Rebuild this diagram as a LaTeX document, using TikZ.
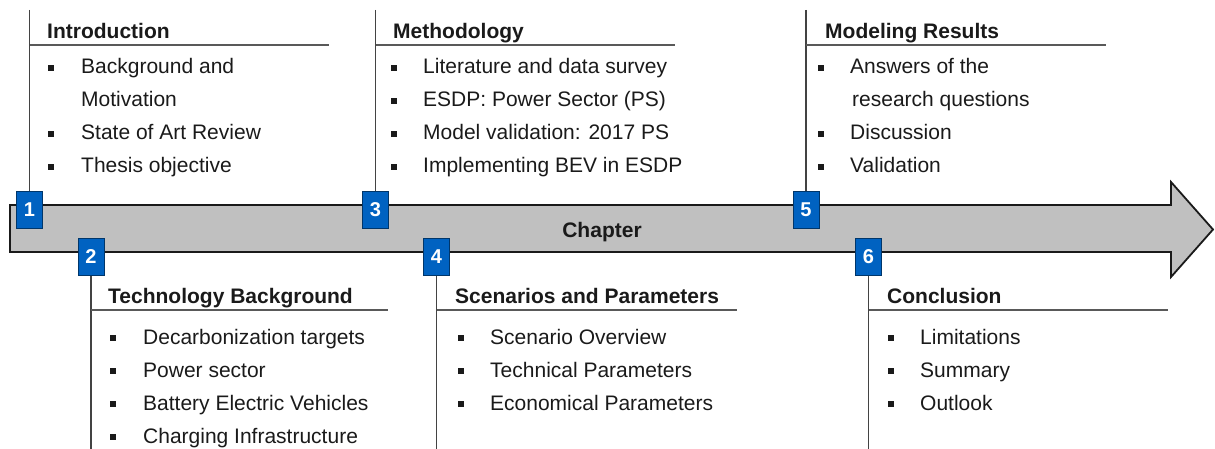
\documentclass[tikz,border=0pt]{standalone}
\usepackage{fontspec}
\setmainfont{Liberation Sans}
\definecolor{numblue}{HTML}{0062C1}
\definecolor{shaft}{HTML}{C0C0C0}
\definecolor{rule}{HTML}{595959}
\definecolor{ink}{HTML}{1A1A1A}
\tikzset{
  body/.style={font=\fontsize{21}{25}\selectfont, text=ink, inner sep=0pt, anchor=base west},
  head/.style={body, font=\fontsize{21}{25}\selectfont\bfseries},
  numbox/.style={draw=numblue!55!black, fill=numblue, minimum width=26pt, minimum height=37pt,
    inner sep=0pt, text=white, font=\fontsize{20}{24}\selectfont\bfseries, line width=0.8pt},
  stem/.style={draw=rule!75!black, line width=1.3pt},
  headrule/.style={draw=rule, line width=1.3pt},
  dot/.style={fill=ink, minimum size=5.5pt, inner sep=0pt},
  timeline/.style={draw=ink, fill=shaft, line width=1.8pt, line join=miter},
}
\begin{document}
\begin{tikzpicture}[x=1pt,y=-1pt]
\useasboundingbox (0,0) rectangle (1215,449);

% timeline arrow
\draw[timeline] (10,205) -- (1171,205) -- (1171,182) -- (1213,229.5)
  -- (1171,277) -- (1171,252) -- (10,252) -- cycle;
\node[head, anchor=base] (chap) at (602,237) {Chapter};

% stem end points and heading rules
\coordinate (t1) at (29.5,10);   \coordinate (t3) at (375.5,10);  \coordinate (t5) at (806,10);
\coordinate (t2) at (91,449);    \coordinate (t4) at (436.5,449); \coordinate (t6) at (868.5,449);
\coordinate (r1a) at (29.5,45);  \coordinate (r1b) at (329,45);
\coordinate (r3a) at (375.5,45); \coordinate (r3b) at (675,45);
\coordinate (r5a) at (806,45);   \coordinate (r5b) at (1106,45);
\coordinate (r2a) at (91,310);   \coordinate (r2b) at (388,310);
\coordinate (r4a) at (436.5,310);\coordinate (r4b) at (737,310);
\coordinate (r6a) at (868.5,310);\coordinate (r6b) at (1168,310);

\draw[stem] (t1) -- (29.5,191);
\draw[stem] (t3) -- (375.5,191);
\draw[stem] (t5) -- (806,191);
\draw[stem] (t2) -- (91,275);
\draw[stem] (t4) -- (436.5,275);
\draw[stem] (t6) -- (868.5,275);
\foreach \k in {1,...,6} { \draw[headrule] (r\k a) -- (r\k b); }

% chapter numbers
\node[numbox] (n1) at (29.5,209.5) {1};
\node[numbox] (n3) at (375.5,209.5) {3};
\node[numbox] (n5) at (806,209.5) {5};
\node[numbox] (n2) at (91,256.5) {2};
\node[numbox] (n4) at (436.5,256.5) {4};
\node[numbox] (n6) at (868.5,256.5) {6};

% 1 Introduction
\node[head] (h1) at (47,39) {Introduction};
\node[dot] (d11) at (51,68) {};  \node[body] (i11) at (81,74) {Background and};
                                 \node[body] (i12) at (81,107) {Motivation};
\node[dot] (d13) at (51,134) {}; \node[body] (i13) at (81,140) {State of Art Review};
\node[dot] (d14) at (51,167) {}; \node[body] (i14) at (81,173) {Thesis objective};

% 3 Methodology
\node[head] (h3) at (393,39) {Methodology};
\node[dot] (d31) at (394,68) {};  \node[body] (i31) at (423,74) {Literature and data survey};
\node[dot] (d32) at (394,101) {}; \node[body] (i32) at (423,107) {ESDP: Power Sector (PS)};
\node[dot] (d33) at (394,134) {}; \node[body] (i33) at (423,140) {Model validation: 2017 PS};
\node[dot] (d34) at (394,167) {}; \node[body] (i34) at (423,173) {Implementing BEV in ESDP};

% 5 Modeling Results
\node[head] (h5) at (825,39) {Modeling Results};
\node[dot] (d51) at (821,68) {};  \node[body] (i51) at (850,74) {Answers of the};
                                  \node[body] (i52) at (852,107) {research questions};
\node[dot] (d53) at (821,134) {}; \node[body] (i53) at (850,140) {Discussion};
\node[dot] (d54) at (821,167) {}; \node[body] (i54) at (850,173) {Validation};

% 2 Technology Background
\node[head] (h2) at (108,303) {Technology Background};
\node[dot] (d21) at (113,338) {}; \node[body] (i21) at (143,344) {Decarbonization targets};
\node[dot] (d22) at (113,371) {}; \node[body] (i22) at (143,377) {Power sector};
\node[dot] (d23) at (113,404) {}; \node[body] (i23) at (143,410) {Battery Electric Vehicles};
\node[dot] (d24) at (113,437) {}; \node[body] (i24) at (143,443) {Charging Infrastructure};

% 4 Scenarios and Parameters
\node[head] (h4) at (455,303) {Scenarios and Parameters};
\node[dot] (d41) at (461,338) {}; \node[body] (i41) at (490,344) {Scenario Overview};
\node[dot] (d42) at (461,371) {}; \node[body] (i42) at (490,377) {Technical Parameters};
\node[dot] (d43) at (461,404) {}; \node[body] (i43) at (490,410) {Economical Parameters};

% 6 Conclusion
\node[head] (h6) at (887,303) {Conclusion};
\node[dot] (d61) at (891,338) {}; \node[body] (i61) at (920,344) {Limitations};
\node[dot] (d62) at (891,371) {}; \node[body] (i62) at (920,377) {Summary};
\node[dot] (d63) at (891,404) {}; \node[body] (i63) at (920,410) {Outlook};
\end{tikzpicture}
\end{document}
